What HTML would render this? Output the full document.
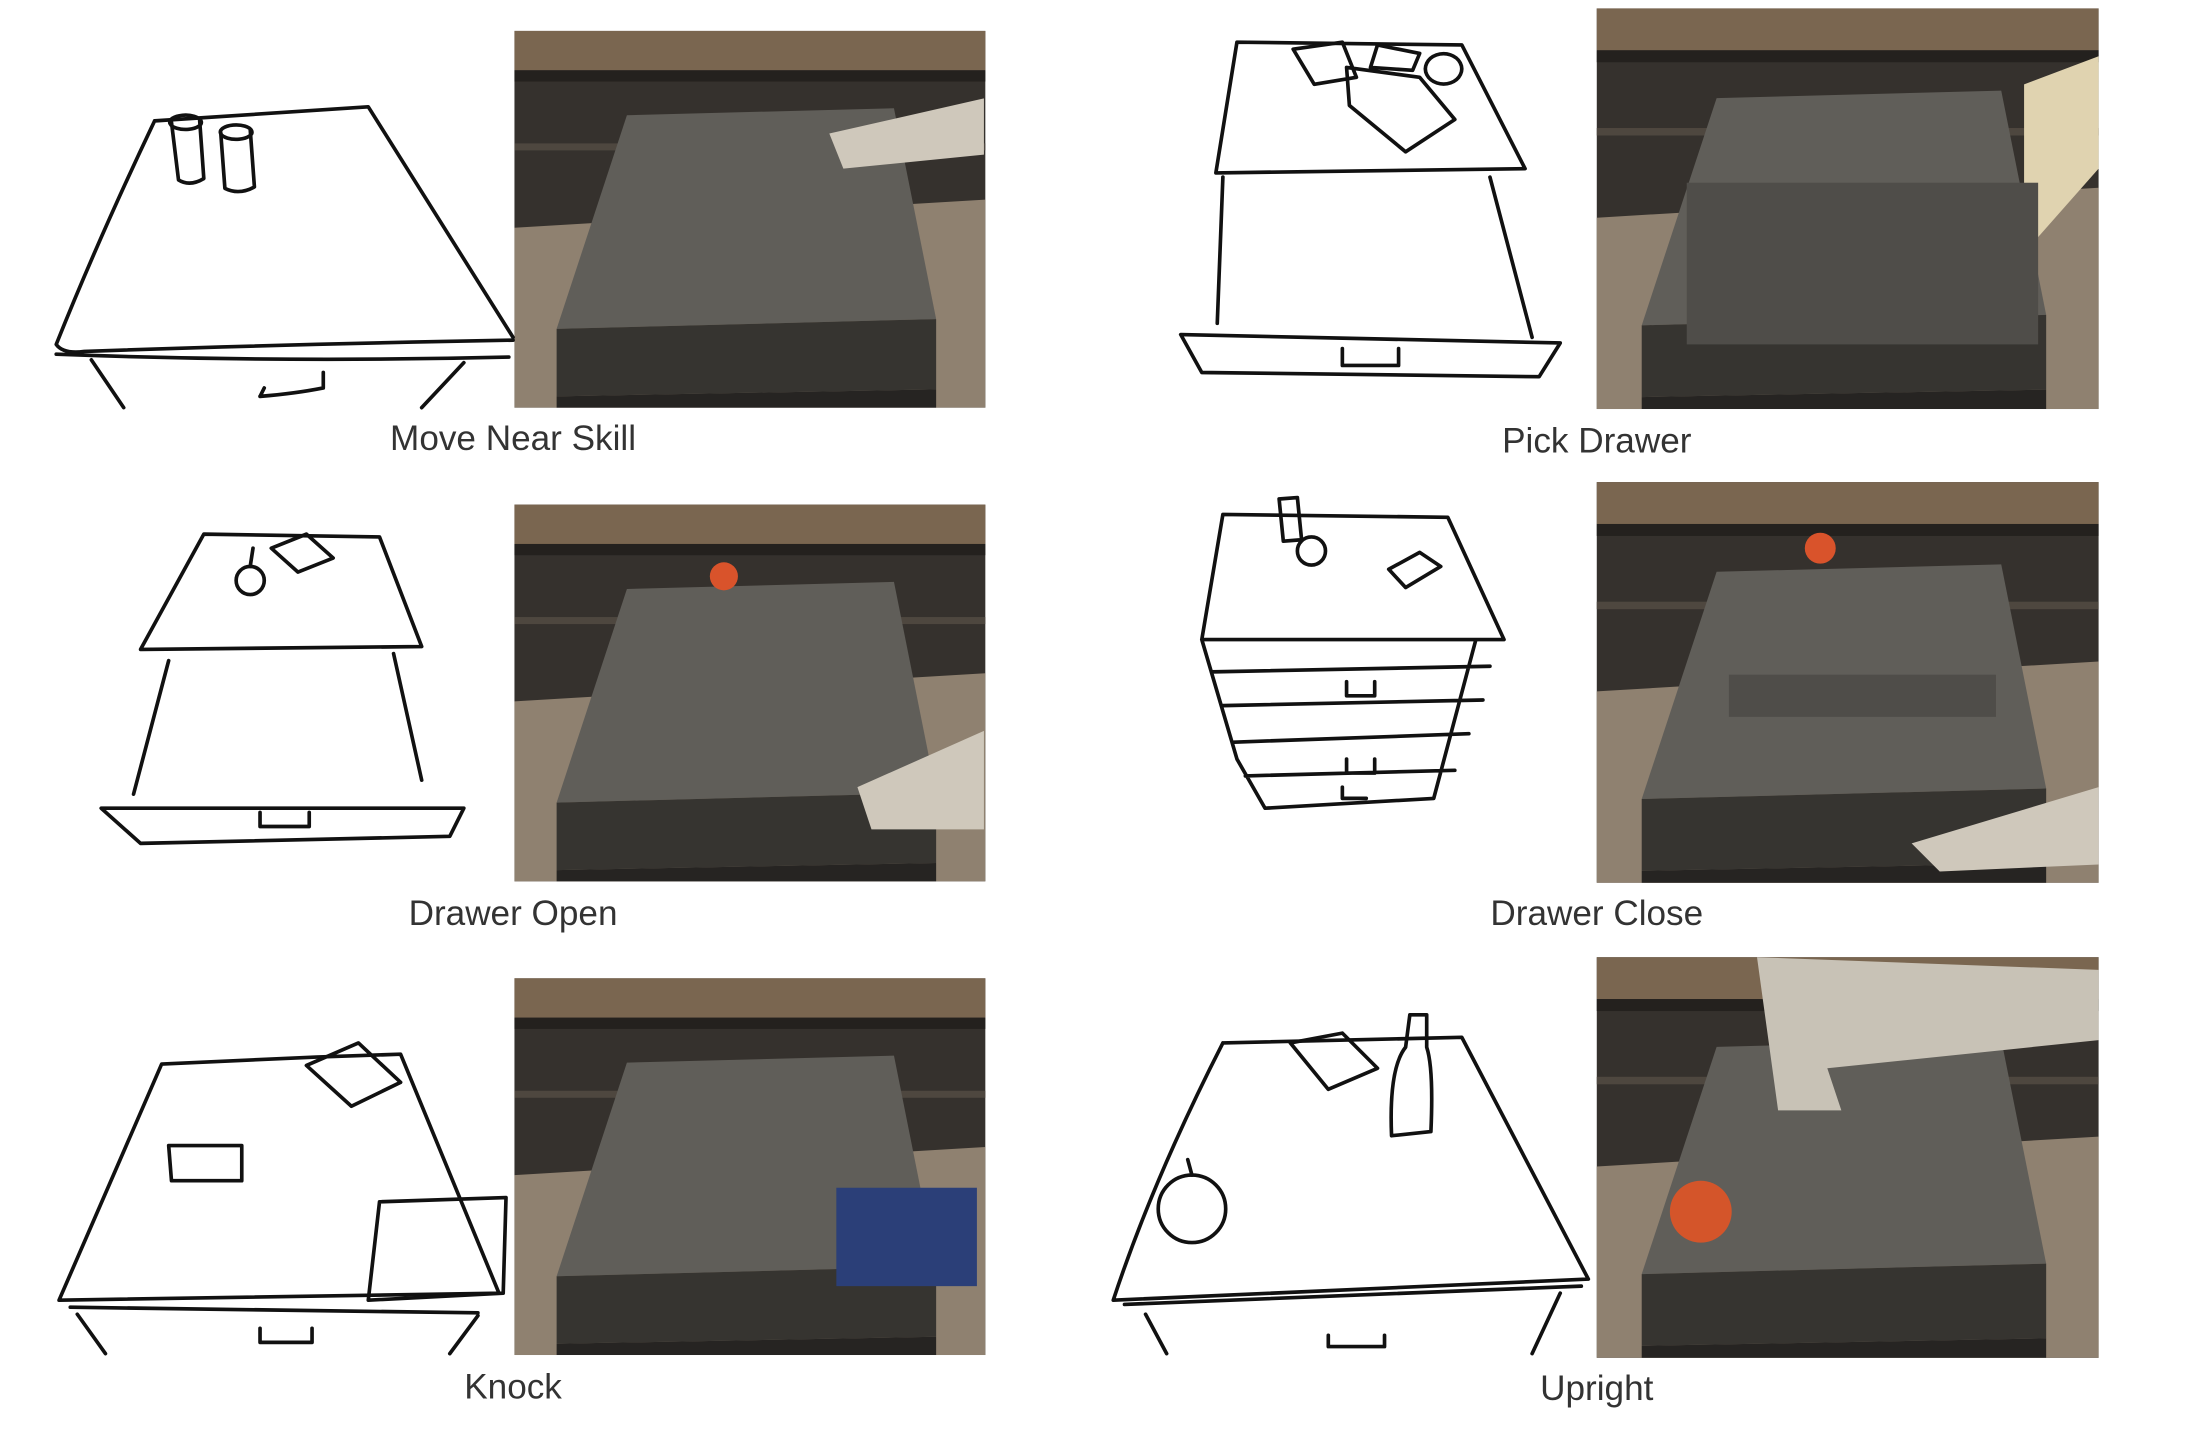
<!DOCTYPE html>
<html><head><meta charset="utf-8"><style>
html,body{margin:0;padding:0;background:#fff;}
svg{display:block;}
text{font-family:"Liberation Sans",sans-serif;font-size:25px;fill:#333;text-anchor:middle;}
.s{fill:none;stroke:#111;stroke-width:2.6;stroke-linejoin:round;stroke-linecap:round;}
</style></head><body>
<svg width="2204" height="1452" viewBox="0 0 1568 1033" preserveAspectRatio="none" xmlns="http://www.w3.org/2000/svg">
<defs>
<g id="photo">
<rect x="0" y="0" width="335" height="268" fill="#35312d"/>
<rect x="0" y="0" width="335" height="28" fill="#7a6650"/>
<rect x="0" y="28" width="335" height="8" fill="#24211e"/>
<rect x="0" y="80" width="335" height="5" fill="#4e473f"/>
<polygon points="0,140 335,120 335,268 0,268" fill="#8f8170"/>
<polygon points="80,60 270,55 300,205 30,212" fill="#605e59"/>
<polygon points="30,212 300,205 300,255 30,260" fill="#363430"/>
<polygon points="30,260 300,255 300,268 30,268" fill="#262422"/>
</g>
</defs>

<g transform="translate(366,22)"><use href="#photo"/></g>
<g transform="translate(1136,6) scale(1.0657,1.0634)"><use href="#photo"/></g>
<g transform="translate(366,359)"><use href="#photo"/></g>
<g transform="translate(1136,343) scale(1.0657,1.0634)"><use href="#photo"/></g>
<g transform="translate(366,696)"><use href="#photo"/></g>
<g transform="translate(1136,681) scale(1.0657,1.0634)"><use href="#photo"/></g>

<path d="M590,95 L700,70 L700,110 L600,120 Z" fill="#cfc8bb"/>
<circle cx="515" cy="410" r="10" fill="#d9532b"/>
<path d="M610,560 L700,520 L700,590 L620,590 Z" fill="#cfc8bb"/>
<path d="M1440,60 L1493,40 L1493,120 L1440,180 Z" fill="#e0d3b0"/>
<rect x="1200" y="130" width="250" height="115" fill="#4f4d49"/>
<circle cx="1295" cy="390" r="11" fill="#d9532b"/>
<rect x="1230" y="480" width="190" height="30" fill="#4f4d49"/>
<path d="M1360,600 L1493,560 L1493,615 L1380,620 Z" fill="#cfc8bb"/>
<rect x="595" y="845" width="100" height="70" fill="#2b3f78"/>
<path d="M1250,681 L1493,690 L1493,740 L1300,760 L1310,790 L1265,790 Z" fill="#c8c2b6"/>
<circle cx="1210" cy="862" r="22" fill="#d4552a"/>

<!-- sketch 1 -->
<path class="s" d="M110,86 L262,76 L365,240 M110,86 Q70,170 40,245 Q45,252 60,250 Q200,245 365,242 M40,252 Q200,258 362,254 M65,256 L88,290 M330,258 L300,290 M185,282 L188,276 M185,282 Q210,280 230,276 L230,265"/>
<path class="s" d="M122,87 L127,128 Q135,133 145,127 L142,85 M121,88 a11,5 0 1,0 22,-2 a11,5 0 1,0 -22,2 M157,94 L160,134 Q170,139 181,133 L178,92 M157,95 a11,5 0 1,0 22,-2 a11,5 0 1,0 -22,2"/>
<!-- sketch 2 -->
<path class="s" d="M880,30 L1040,32 L1085,120 L865,123 Z M870,126 L866,230 M1060,126 L1090,240 M840,238 L1110,244 L1095,268 L855,265 Z M955,248 L955,260 L995,260 L995,248"/>
<path class="s" d="M920,35 L955,30 L965,55 L935,60 Z M958,48 L1010,55 L1035,85 L1000,108 L960,75 Z M980,32 L1010,38 L1005,50 L975,48 Z M1015,45 a12,10 0 1,0 24,8 a12,10 0 1,0 -24,-8"/>
<!-- sketch 3 -->
<path class="s" d="M145,380 L270,382 L300,460 L100,462 Z M120,470 L95,565 M280,465 L300,555 M72,575 L330,575 L320,595 L100,600 Z M185,578 L185,588 L220,588 L220,578"/>
<circle class="s" cx="178" cy="413" r="10"/>
<path class="s" d="M193,390 L218,380 L237,397 L212,407 Z M178,403 L180,390"/>
<!-- sketch 4 -->
<path class="s" d="M870,366 L1030,368 L1070,455 L855,455 Z M855,455 L880,540 L900,575 L1020,568 L1050,455 M862,478 L1060,474 M870,502 L1055,498 M878,528 L1045,522 M886,552 L1035,548 M958,485 L958,495 L978,495 L978,485 M958,540 L958,550 L978,550 L978,540 M955,560 L955,568 L972,568"/>
<path class="s" d="M910,355 L913,385 L926,384 L923,354 Z"/>
<circle class="s" cx="933" cy="392" r="10"/>
<path class="s" d="M988,405 L1010,393 L1025,403 L1000,418 Z"/>
<!-- sketch 5 -->
<path class="s" d="M115,757 L225,752 L285,750 L355,920 L42,925 Z M50,930 L340,934 M55,935 L75,963 M340,936 L320,963 M185,945 L185,955 L222,955 L222,945"/>
<path class="s" d="M218,758 L255,742 L285,770 L250,787 Z M120,815 L172,815 L172,840 L122,840 Z M270,855 L360,852 L358,920 L262,925 Z"/>
<!-- sketch 6 -->
<path class="s" d="M870,742 L1040,738 L1130,910 L792,925 Q820,840 870,742 M800,928 L1125,915 M815,935 L830,963 M1110,920 L1090,963 M945,950 L945,958 L985,958 L985,950"/>
<path class="s" d="M918,742 L955,735 L980,760 L945,775 Z M1003,722 L1015,722 L1015,745 Q1020,760 1018,805 L990,808 Q988,760 1000,745 Z"/>
<circle class="s" cx="848" cy="860" r="24"/>
<path class="s" d="M848,836 L845,825"/>

<text x="365" y="320">Move Near Skill</text>
<text x="1136" y="322">Pick Drawer</text>
<text x="365" y="658">Drawer Open</text>
<text x="1136" y="658">Drawer Close</text>
<text x="365" y="995">Knock</text>
<text x="1136" y="996">Upright</text>
</svg>
</body></html>
